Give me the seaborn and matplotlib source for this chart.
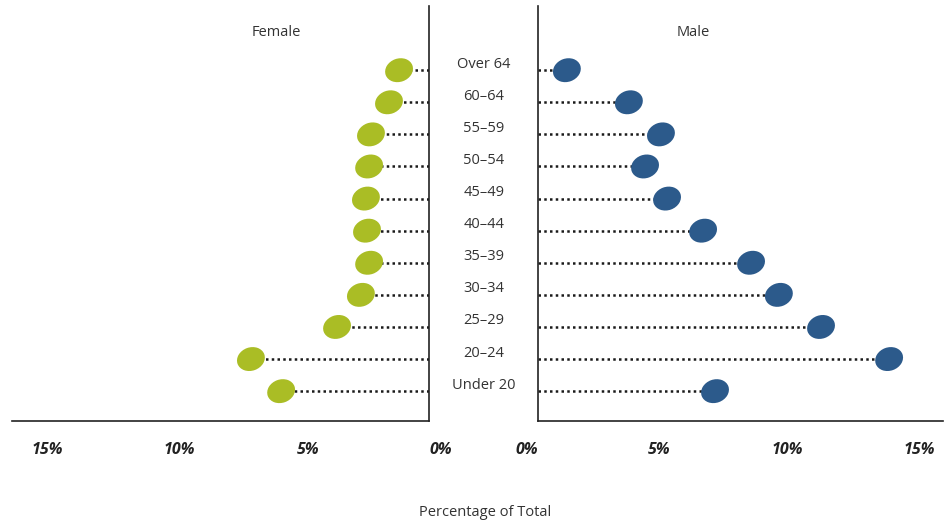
import numpy as np
import pandas as pd
import matplotlib
matplotlib.use("Agg")
import matplotlib.pyplot as plt
import matplotlib.transforms as mtransforms
from matplotlib.path import Path
from matplotlib.markers import MarkerStyle
import seaborn as sns

# age groups, top to bottom
age_groups = ["Over 64", "60\u201364", "55\u201359", "50\u201354", "45\u201349", "40\u201344",
              "35\u201339", "30\u201334", "25\u201329", "20\u201324", "Under 20"]
female_pct = [1.13, 1.51, 2.19, 2.26, 2.38, 2.34, 2.26, 2.57, 3.47, 6.72, 5.58]
male_pct = [1.09, 3.43, 4.64, 4.04, 4.87, 6.23, 8.04, 9.09, 10.68, 13.25, 6.68]
tick_values = [0, 5, 10, 15]
tick_labels = ["0%", "5%", "10%", "15%"]

female_color = "#aabd25"
male_color = "#2c5a8b"
text_color = "#333333"

sns.set_theme(style="white")
plt.rcParams["font.family"] = ["Open Sans", "DejaVu Sans"]

df = pd.DataFrame({"age": age_groups, "pos": np.arange(len(age_groups)),
                   "female": female_pct, "male": male_pct})

# tilted ellipse marker
ell = Path.unit_circle().transformed(mtransforms.Affine2D().scale(1.0, 0.82).rotate_deg(20))
ell_marker = MarkerStyle(ell)

W, H = 944, 524
fig = plt.figure(figsize=(W / 100, H / 100), dpi=100)
ax_f = fig.add_axes([12 / W, (H - 421) / H, 417 / W, 415 / H])
ax_m = fig.add_axes([538 / W, (H - 421) / H, 405 / W, 415 / H])

px_per_pct = 26.5
for ax, col, color in [(ax_f, "female", female_color), (ax_m, "male", male_color)]:
    ax.hlines(df["pos"], 0, df[col], colors="#1a1a1a", linestyles=(0, (1, 1.3)),
              linewidth=1.8, zorder=1)
    sns.scatterplot(data=df, x=col, y="pos", ax=ax, color=color, marker=ell_marker,
                    s=430, edgecolor="none", linewidth=0, zorder=3, legend=False)
    ax.set_ylim(10.93, -2.0)
    ax.set_xticks(tick_values)
    ax.set_xticklabels(tick_labels, fontweight="bold", style="italic", fontsize=11.5,
                       color="#222222")
    ax.tick_params(axis="x", length=0, pad=15)
    ax.set_yticks([])
    ax.set_xlabel("")
    ax.set_ylabel("")
    for s in ax.spines.values():
        s.set_color("#222222")
        s.set_linewidth(1.2)
    ax.spines["top"].set_visible(False)

ax_f.set_xlim(417 / px_per_pct, 0)
ax_f.spines["left"].set_visible(False)
for lab in ax_f.get_xticklabels():
    lab.set_horizontalalignment("left")

ax_m.set_xlim(0, 405 / px_per_pct)
ax_m.spines["right"].set_visible(False)
for lab in ax_m.get_xticklabels():
    lab.set_horizontalalignment("right")

# age group labels in the gap
trans = mtransforms.blended_transform_factory(fig.transFigure, ax_f.transData)
trans = trans + mtransforms.ScaledTranslation(0, 6 / 100, fig.dpi_scale_trans)
for p, a in zip(df["pos"], df["age"]):
    fig.text(484 / W, p, a, transform=trans, ha="center", va="center",
             fontsize=10.5, color=text_color)

fig.text(276 / W, 1 - 32 / H, "Female", ha="center", va="center", fontsize=10.5, color=text_color)
fig.text(693 / W, 1 - 32 / H, "Male", ha="center", va="center", fontsize=10.5, color=text_color)
fig.text(485 / W, 1 - 513 / H, "Percentage of Total", ha="center", va="center",
         fontsize=10.5, color=text_color)

fig.savefig("out.png", dpi=100)
